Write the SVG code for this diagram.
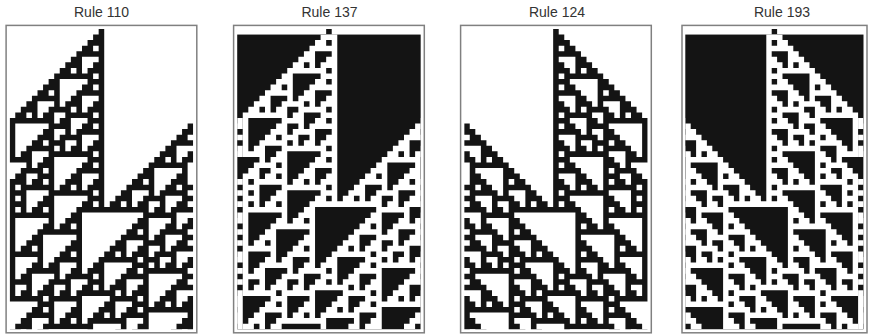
<svg xmlns="http://www.w3.org/2000/svg" xmlns:xlink="http://www.w3.org/1999/xlink" width="871" height="336" viewBox="0 0 871 336">
<style>
.title{font-family:"Liberation Sans",Arial,sans-serif;font-size:14px;fill:#333;text-anchor:middle}
.frame{fill:#fff;stroke:#808080;stroke-width:1.5}
.blk{fill:#141414}
.wht{fill:#fff}
</style>
<defs>
<path id="ca" d="M16 0h1v1h-1z M15 1h2v1h-2z M14 2h3v1h-3z M13 3h2v1h-2z M16 3h1v1h-1z M12 4h5v1h-5z M11 5h2v1h-2z M16 5h1v1h-1z M10 6h3v1h-3z M15 6h2v1h-2z M9 7h2v1h-2z M12 7h1v1h-1z M14 7h3v1h-3z M8 8h7v1h-7z M16 8h1v1h-1z M7 9h2v1h-2z M14 9h3v1h-3z M6 10h3v1h-3z M13 10h2v1h-2z M16 10h1v1h-1z M5 11h2v1h-2z M8 11h1v1h-1z M12 11h5v1h-5z M4 12h5v1h-5z M11 12h2v1h-2z M16 12h1v1h-1z M3 13h2v1h-2z M8 13h1v1h-1z M10 13h3v1h-3z M15 13h2v1h-2z M2 14h3v1h-3z M7 14h4v1h-4z M12 14h1v1h-1z M14 14h3v1h-3z M1 15h2v1h-2z M4 15h1v1h-1z M6 15h2v1h-2z M10 15h5v1h-5z M16 15h1v1h-1z M0 16h8v1h-8z M9 16h2v1h-2z M14 16h3v1h-3z M0 17h1v1h-1z M7 17h4v1h-4z M13 17h2v1h-2z M16 17h1v1h-1z M32 17h1v1h-1z M0 18h1v1h-1z M6 18h2v1h-2z M10 18h1v1h-1z M12 18h5v1h-5z M31 18h2v1h-2z M0 19h1v1h-1z M5 19h3v1h-3z M9 19h4v1h-4z M16 19h1v1h-1z M30 19h2v1h-2z M0 20h1v1h-1z M4 20h2v1h-2z M7 20h3v1h-3z M12 20h1v1h-1z M15 20h2v1h-2z M29 20h4v1h-4z M0 21h1v1h-1z M3 21h5v1h-5z M9 21h1v1h-1z M11 21h2v1h-2z M14 21h3v1h-3z M28 21h2v1h-2z M0 22h1v1h-1z M2 22h2v1h-2z M7 22h8v1h-8z M16 22h1v1h-1z M27 22h3v1h-3z M32 22h1v1h-1z M0 23h4v1h-4z M6 23h2v1h-2z M14 23h3v1h-3z M26 23h2v1h-2z M29 23h1v1h-1z M31 23h2v1h-2z M3 24h1v1h-1z M5 24h3v1h-3z M13 24h2v1h-2z M16 24h1v1h-1z M25 24h7v1h-7z M2 25h4v1h-4z M7 25h1v1h-1z M12 25h5v1h-5z M24 25h2v1h-2z M31 25h1v1h-1z M1 26h2v1h-2z M5 26h3v1h-3z M11 26h2v1h-2z M16 26h1v1h-1z M23 26h3v1h-3z M30 26h2v1h-2z M0 27h3v1h-3z M4 27h2v1h-2z M7 27h1v1h-1z M10 27h3v1h-3z M15 27h2v1h-2z M22 27h2v1h-2z M25 27h1v1h-1z M29 27h3v1h-3z M0 28h1v1h-1z M2 28h6v1h-6z M9 28h2v1h-2z M12 28h1v1h-1z M14 28h3v1h-3z M21 28h5v1h-5z M28 28h2v1h-2z M31 28h2v1h-2z M0 29h3v1h-3z M7 29h8v1h-8z M16 29h1v1h-1z M20 29h2v1h-2z M25 29h1v1h-1z M27 29h5v1h-5z M0 30h1v1h-1z M2 30h1v1h-1z M6 30h2v1h-2z M14 30h3v1h-3z M19 30h3v1h-3z M24 30h4v1h-4z M31 30h2v1h-2z M0 31h3v1h-3z M5 31h3v1h-3z M13 31h2v1h-2z M16 31h1v1h-1z M18 31h2v1h-2z M21 31h1v1h-1z M23 31h2v1h-2z M27 31h1v1h-1z M30 31h2v1h-2z M0 32h1v1h-1z M2 32h1v1h-1z M4 32h2v1h-2z M7 32h1v1h-1z M12 32h13v1h-13z M26 32h2v1h-2z M29 32h4v1h-4z M0 33h8v1h-8z M11 33h2v1h-2z M24 33h6v1h-6z M0 34h1v1h-1z M7 34h1v1h-1z M10 34h3v1h-3z M23 34h2v1h-2z M29 34h1v1h-1z M32 34h1v1h-1z M0 35h1v1h-1z M6 35h2v1h-2z M9 35h2v1h-2z M12 35h1v1h-1z M22 35h3v1h-3z M28 35h2v1h-2z M31 35h2v1h-2z M0 36h1v1h-1z M5 36h8v1h-8z M21 36h2v1h-2z M24 36h1v1h-1z M27 36h5v1h-5z M0 37h1v1h-1z M4 37h2v1h-2z M12 37h1v1h-1z M20 37h5v1h-5z M26 37h2v1h-2z M31 37h2v1h-2z M0 38h1v1h-1z M3 38h3v1h-3z M11 38h2v1h-2z M19 38h2v1h-2z M24 38h4v1h-4z M30 38h2v1h-2z M0 39h1v1h-1z M2 39h2v1h-2z M5 39h1v1h-1z M10 39h3v1h-3z M18 39h3v1h-3z M23 39h2v1h-2z M27 39h1v1h-1z M29 39h4v1h-4z M0 40h6v1h-6z M9 40h2v1h-2z M12 40h1v1h-1z M17 40h2v1h-2z M20 40h1v1h-1z M22 40h3v1h-3z M26 40h4v1h-4z M0 41h1v1h-1z M5 41h1v1h-1z M8 41h5v1h-5z M16 41h7v1h-7z M24 41h3v1h-3z M29 41h1v1h-1z M32 41h1v1h-1z M0 42h1v1h-1z M4 42h2v1h-2z M7 42h2v1h-2z M12 42h1v1h-1z M15 42h2v1h-2z M22 42h3v1h-3z M26 42h1v1h-1z M28 42h2v1h-2z M31 42h2v1h-2z M0 43h1v1h-1z M3 43h6v1h-6z M11 43h2v1h-2z M14 43h3v1h-3z M21 43h2v1h-2z M24 43h8v1h-8z M0 44h1v1h-1z M2 44h2v1h-2z M8 44h1v1h-1z M10 44h5v1h-5z M16 44h1v1h-1z M20 44h5v1h-5z M31 44h2v1h-2z M0 45h4v1h-4z M7 45h4v1h-4z M14 45h3v1h-3z M19 45h2v1h-2z M24 45h1v1h-1z M30 45h2v1h-2z M0 46h1v1h-1z M3 46h1v1h-1z M6 46h2v1h-2z M10 46h1v1h-1z M13 46h2v1h-2z M16 46h1v1h-1z M18 46h3v1h-3z M23 46h2v1h-2z M29 46h4v1h-4z M0 47h1v1h-1z M2 47h2v1h-2z M5 47h3v1h-3z M9 47h2v1h-2z M12 47h7v1h-7z M20 47h1v1h-1z M22 47h3v1h-3z M28 47h2v1h-2z M0 48h6v1h-6z M7 48h6v1h-6z M18 48h5v1h-5z M24 48h1v1h-1z M27 48h3v1h-3z M32 48h1v1h-1z M5 49h3v1h-3z M12 49h1v1h-1z M17 49h2v1h-2z M22 49h3v1h-3z M26 49h2v1h-2z M29 49h1v1h-1z M31 49h2v1h-2z M4 50h2v1h-2z M7 50h1v1h-1z M11 50h2v1h-2z M16 50h3v1h-3z M21 50h2v1h-2z M24 50h9v1h-9z M3 51h5v1h-5z M10 51h3v1h-3z M15 51h2v1h-2z M18 51h1v1h-1z M20 51h5v1h-5z M32 51h1v1h-1z M2 52h2v1h-2z M7 52h1v1h-1z M9 52h2v1h-2z M12 52h1v1h-1z M14 52h7v1h-7z M24 52h1v1h-1z M31 52h2v1h-2z M1 53h3v1h-3z M6 53h9v1h-9z M20 53h1v1h-1z M23 53h2v1h-2z M30 53h3v1h-3z M0 54h2v1h-2z M3 54h1v1h-1z M5 54h2v1h-2z M14 54h1v1h-1z M19 54h2v1h-2z M22 54h3v1h-3z M29 54h2v1h-2z M32 54h1v1h-1z"/>
<clipPath id="clipA" clipPathUnits="userSpaceOnUse"><rect x="0" y="0" width="33" height="54"/></clipPath>
<clipPath id="clipB" clipPathUnits="userSpaceOnUse"><rect x="0" y="1" width="33" height="53"/></clipPath>
<g id="evoA" clip-path="url(#clipA)"><use href="#ca" xlink:href="#ca"/></g>
<g id="evoB">
<rect x="0" y="1" width="33" height="53" class="blk"/>
<rect x="16" y="0" width="1" height="1" class="blk"/>
<g clip-path="url(#clipB)" class="wht"><use href="#ca" xlink:href="#ca" x="1" y="-1"/><use href="#ca" xlink:href="#ca" x="-32" y="-1"/></g>
</g>
</defs>

<g id="panel-110">
<text class="title" x="101.5" y="17">Rule 110</text>
<rect class="frame" x="6.1" y="25.4" width="190.7" height="307.4"/>
<g class="blk" transform="translate(9.7,29) scale(5.56)"><use href="#evoA" xlink:href="#evoA"/></g>
</g>

<g id="panel-137">
<text class="title" x="329.5" y="17">Rule 137</text>
<rect class="frame" x="233.6" y="25.4" width="190.7" height="307.4"/>
<g transform="translate(237.2,29) scale(5.56)"><use href="#evoB" xlink:href="#evoB"/></g>
</g>

<g id="panel-124">
<text class="title" x="557" y="17">Rule 124</text>
<rect class="frame" x="460.6" y="25.4" width="190.7" height="307.4"/>
<g class="blk" transform="translate(464.2,29) scale(5.56)"><g transform="translate(33,0) scale(-1,1)"><use href="#evoA" xlink:href="#evoA"/></g></g>
</g>

<g id="panel-193">
<text class="title" x="782" y="17">Rule 193</text>
<rect class="frame" x="682" y="25.4" width="185" height="307.4"/>
<g transform="translate(685.3,29) scale(5.4,5.56)"><g transform="translate(33,0) scale(-1,1)"><use href="#evoB" xlink:href="#evoB"/></g></g>
</g>
</svg>
